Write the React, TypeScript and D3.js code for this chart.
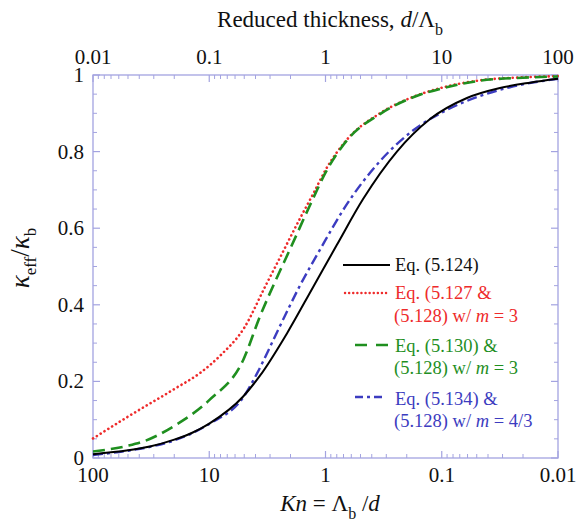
import React from "react";
import * as d3 from "d3";

// Bottom axis: Knudsen number Kn; top axis: reduced thickness d/Λb
const knTicks = [100, 10, 1, 0.1, 0.01];
const knTickLabels = ["100", "10", "1", "0.1", "0.01"];
const topTickLabels = ["0.01", "0.1", "1", "10", "100"];
const yTicks = [0, 0.2, 0.4, 0.6, 0.8, 1];
const yTickLabels = ["0", "0.2", "0.4", "0.6", "0.8", "1"];

// Eq. (5.124)
const knBlack = [100, 50, 32.4, 20, 14, 10, 5.13, 3.66, 2.14, 1.28, 0.8, 0.475, 0.243, 0.126, 0.0607, 0.0316, 0.0174, 0.01];
const vBlack = [0.010, 0.020, 0.030, 0.048, 0.066, 0.090, 0.160, 0.215, 0.326, 0.446, 0.556, 0.676, 0.800, 0.885, 0.940, 0.966, 0.980, 0.990];

// Eq. (5.127) & (5.128) w/ m = 3
const knRed = [100, 50, 20, 12, 8, 5, 3.3, 2.4, 1.66, 1.25, 1, 0.66, 0.34, 0.176, 0.091, 0.047, 0.02, 0.01];
const vRed = [0.051, 0.108, 0.180, 0.222, 0.268, 0.34, 0.448, 0.53, 0.625, 0.695, 0.752, 0.83, 0.90, 0.943, 0.97, 0.986, 0.994, 0.997];

// Eq. (5.130) & (5.128) w/ m = 3
const knGreen = [100, 50, 37, 19, 10, 5.1, 3.66, 2.72, 2.02, 1.36, 1, 0.66, 0.34, 0.176, 0.091, 0.047, 0.02, 0.01];
const vGreen = [0.017, 0.032, 0.043, 0.088, 0.151, 0.256, 0.37, 0.46, 0.545, 0.66, 0.745, 0.828, 0.898, 0.942, 0.968, 0.985, 0.993, 0.996];

// Eq. (5.134) & (5.128) w/ m = 4/3
const knBlue = [100, 50, 32.4, 20, 14, 10, 5, 3.88, 2.46, 1.66, 1.11, 0.68, 0.34, 0.177, 0.09, 0.047, 0.026, 0.01];
const vBlue = [0.008, 0.019, 0.029, 0.046, 0.065, 0.089, 0.162, 0.221, 0.345, 0.45, 0.545, 0.655, 0.775, 0.855, 0.909, 0.945, 0.968, 0.99];

const FONT = "'Liberation Serif', 'Times New Roman', serif";
const AXIS = "#a3a3e0";
const RED = "#ee2b2b";
const GREEN = "#1f8f1f";
const BLUE = "#3c3cc0";

const L = 93, R = 558, T = 75, B = 458;

export default function App() {
  const x = d3.scaleLog().domain([100, 0.01]).range([L, R]);
  const y = d3.scaleLinear().domain([0, 1]).range([B, T]);

  const line = d3
    .line<[number, number]>()
    .x((d) => x(d[0]))
    .y((d) => y(d[1]))
    .curve(d3.curveMonotoneX);

  const mk = (ks: number[], vs: number[]) => line(ks.map((k, i) => [k, vs[i]] as [number, number])) || "";

  const minorX: number[] = [];
  for (let e = -2; e <= 1; e++) for (let k = 2; k <= 9; k++) minorX.push(k * Math.pow(10, e));
  const minorY: number[] = d3.range(0, 1.0001, 0.05).filter((v) => Math.abs(Math.round(v * 5) - v * 5) > 1e-6);

  const legendFs = 18.5;

  return (
    <svg width={578} height={532} style={{ position: "absolute", left: 0, top: 0, fontFamily: FONT }}>
      <rect x={0} y={0} width={578} height={532} fill="#fff" />
      {/* frame */}
      <rect x={L} y={T} width={R - L} height={B - T} fill="none" stroke={AXIS} strokeWidth={1.3} />
      {/* x ticks */}
      {knTicks.map((k) => (
        <g key={"mx" + k} stroke={AXIS} strokeWidth={1.2}>
          <line x1={x(k)} x2={x(k)} y1={B} y2={B - 7} />
          <line x1={x(k)} x2={x(k)} y1={T} y2={T + 7} />
        </g>
      ))}
      {minorX.map((k) => (
        <g key={"nx" + k} stroke={AXIS} strokeWidth={1}>
          <line x1={x(k)} x2={x(k)} y1={B} y2={B - 4} />
          <line x1={x(k)} x2={x(k)} y1={T} y2={T + 4} />
        </g>
      ))}
      {yTicks.map((v) => (
        <g key={"my" + v} stroke={AXIS} strokeWidth={1.2}>
          <line x1={L} x2={L + 7} y1={y(v)} y2={y(v)} />
          <line x1={R} x2={R - 7} y1={y(v)} y2={y(v)} />
        </g>
      ))}
      {minorY.map((v) => (
        <g key={"ny" + v} stroke={AXIS} strokeWidth={1}>
          <line x1={L} x2={L + 4} y1={y(v)} y2={y(v)} />
          <line x1={R} x2={R - 4} y1={y(v)} y2={y(v)} />
        </g>
      ))}
      {/* tick labels */}
      {knTicks.map((k, i) => (
        <text key={"bl" + k} x={x(k)} y={482} textAnchor="middle" fontSize={21} fill="#111">
          {knTickLabels[i]}
        </text>
      ))}
      {knTicks.map((k, i) => (
        <text key={"tl" + k} x={x(k)} y={64} textAnchor="middle" fontSize={21} fill="#111">
          {topTickLabels[i]}
        </text>
      ))}
      {yTicks.map((v, i) => (
        <text key={"yl" + v} x={84} y={y(v) + 7} textAnchor="end" fontSize={21} fill="#111">
          {yTickLabels[i]}
        </text>
      ))}
      {/* axis titles */}
      <text x={330} y={27} textAnchor="middle" fontSize={23} fill="#111">
        Reduced thickness, <tspan fontStyle="italic">d</tspan>/Λ
        <tspan fontSize={16} dy={8}>b</tspan>
      </text>
      <text x={330} y={511} textAnchor="middle" fontSize={23} fill="#111">
        <tspan fontStyle="italic">Kn</tspan> = Λ<tspan fontSize={16} dy={8}>b</tspan>
        <tspan dy={-8}> /</tspan>
        <tspan fontStyle="italic">d</tspan>
      </text>
      <text transform="translate(29,258) rotate(-90)" textAnchor="middle" fontSize={27} fill="#111">
        <tspan fontStyle="italic">κ</tspan>
        <tspan fontSize={17} dy={7}>eff</tspan>
        <tspan dy={-7}>/</tspan>
        <tspan fontStyle="italic">κ</tspan>
        <tspan fontSize={17} dy={7}>b</tspan>
      </text>
      {/* curves */}
      <path d={mk(knRed, vRed)} fill="none" stroke={RED} strokeWidth={2.6} strokeDasharray="0.1 4.4" strokeLinecap="round" />
      <path d={mk(knGreen, vGreen)} fill="none" stroke={GREEN} strokeWidth={2.6} strokeDasharray="12 6" />
      <path d={mk(knBlue, vBlue)} fill="none" stroke={BLUE} strokeWidth={2.4} strokeDasharray="10 4 3 4" />
      <path d={mk(knBlack, vBlack)} fill="none" stroke="#000" strokeWidth={2} />
      {/* legend */}
      <g fontSize={legendFs}>
        <line x1={343} x2={390} y1={265} y2={265} stroke="#000" strokeWidth={2} />
        <text x={395} y={271} fill="#111">Eq. (5.124)</text>

        <line x1={345} x2={389} y1={293} y2={293} stroke={RED} strokeWidth={2.4} strokeDasharray="0.1 4" strokeLinecap="round" />
        <text x={395} y={299} fill={RED}>Eq. (5.127 &amp;</text>
        <text x={394} y={322} fill={RED}>(5.128) w/ <tspan fontStyle="italic">m</tspan> = 3</text>

        <line x1={355} x2={389} y1={345} y2={345} stroke={GREEN} strokeWidth={2.6} strokeDasharray="12 9" />
        <text x={395} y={352} fill={GREEN}>Eq. (5.130) &amp;</text>
        <text x={394} y={374} fill={GREEN}>(5.128) w/ <tspan fontStyle="italic">m</tspan> = 3</text>

        <line x1={355} x2={385} y1={397} y2={397} stroke={BLUE} strokeWidth={2.4} strokeDasharray="8 4 3 4" />
        <text x={395} y={405} fill={BLUE}>Eq. (5.134) &amp;</text>
        <text x={394} y={427} fill={BLUE}>(5.128) w/ <tspan fontStyle="italic">m</tspan> = 4/3</text>
      </g>
    </svg>
  );
}
